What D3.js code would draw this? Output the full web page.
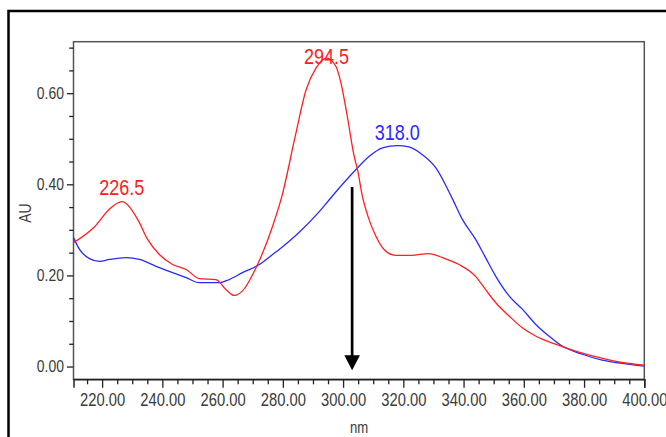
<!DOCTYPE html>
<html>
<head>
<meta charset="utf-8">
<script src="https://cdn.jsdelivr.net/npm/d3@7"></script>
<style>
  html, body { margin: 0; padding: 0; background: #fff; }
  svg { display: block; }
  .lbl { font-family: "Liberation Sans", Arial, sans-serif; }
</style>
</head>
<body>
<svg id="chart" width="666" height="437"></svg>
<script>
// UV absorbance spectra (AU vs wavelength, nm)
const redNm = [210.5, 217.5, 222.4, 226.5, 231.8, 235.1, 239.0, 243.4, 247.9, 252.3, 257.8, 261.1, 263.9, 266.6, 271.1, 276.6, 279.7, 284.1, 287.7, 291.0, 294.5, 297.6, 299.3, 301.4, 303.7, 304.8, 306.4, 308.6, 310.9, 313.6, 317.5, 322.5, 328.5, 333.0, 338.5, 344.0, 347.3, 350.7, 355.1, 359.5, 363.9, 370.5, 377.2, 383.8, 391.5, 400.0];
const redAU = [0.272, 0.307, 0.345, 0.362, 0.323, 0.279, 0.246, 0.224, 0.213, 0.193, 0.191, 0.169, 0.156, 0.166, 0.217, 0.308, 0.374, 0.505, 0.607, 0.655, 0.677, 0.659, 0.622, 0.549, 0.461, 0.432, 0.374, 0.323, 0.286, 0.257, 0.244, 0.244, 0.248, 0.239, 0.224, 0.198, 0.169, 0.140, 0.111, 0.085, 0.067, 0.049, 0.034, 0.022, 0.010, 0.003];

const blueNm = [210.5, 212.5, 215.8, 219.1, 222.4, 228.0, 232.4, 237.9, 243.4, 247.9, 252.3, 258.9, 262.2, 266.6, 272.2, 276.6, 278.8, 285.0, 292.1, 295.4, 299.8, 304.2, 308.6, 313.1, 318.0, 321.9, 326.3, 330.8, 336.3, 339.6, 344.0, 347.3, 350.7, 355.1, 359.5, 363.9, 368.3, 372.7, 379.4, 386.0, 392.6, 400.0];
const blueAU = [0.283, 0.257, 0.237, 0.231, 0.235, 0.239, 0.235, 0.220, 0.206, 0.195, 0.184, 0.184, 0.191, 0.206, 0.224, 0.246, 0.257, 0.292, 0.340, 0.366, 0.400, 0.432, 0.461, 0.480, 0.485, 0.482, 0.465, 0.436, 0.368, 0.323, 0.279, 0.239, 0.198, 0.155, 0.126, 0.093, 0.067, 0.045, 0.027, 0.014, 0.007, 0.001];

const xMajorTicks = [220, 240, 260, 280, 300, 320, 340, 360, 380, 400];
const xMinorTicks = d3.range(215, 401, 5);
const yMajorTicks = [0.0, 0.2, 0.4, 0.6];
const yMinorTicks = d3.range(0, 0.701, 0.05);

const peakNm = [226.5, 294.5, 318.0];
const peakLabels = ["226.5", "294.5", "318.0"];
const peakSeries = ["red", "red", "blue"];

// downward arrow marker (wavelength, from AU, to AU)
const arrowNm = 303.0;
const arrowFromAU = 0.394;
const arrowToAU = -0.008;

const colors = { red: "#ff2020", blue: "#2a2aff" };
const narrow = 0.82; // horizontal squeeze for the condensed look of the labels

const svg = d3.select("#chart");
const box = { left: 73.5, right: 644.3, top: 41.7, bottom: 379.3 };

const x = d3.scaleLinear().domain([210.5, 400]).range([box.left, box.right]);
const y = d3.scaleLinear().domain([-0.028, 0.713]).range([box.bottom, box.top]);

// outer frame (open to the right and bottom)
svg.append("path")
  .attr("d", `M8.5,437 L8.5,11 L666,11`)
  .attr("fill", "none").attr("stroke", "#000").attr("stroke-width", 2.5);

// plot box
svg.append("rect")
  .attr("x", box.left).attr("y", box.top)
  .attr("width", box.right - box.left).attr("height", box.bottom - box.top)
  .attr("fill", "none").attr("stroke", "#555").attr("stroke-width", 1.5);

// x axis: major + minor ticks
const xAxisMajor = d3.axisBottom(x).tickValues(xMajorTicks)
  .tickSize(8.5).tickPadding(5).tickFormat(d3.format(".2f"));
const gx = svg.append("g").attr("transform", `translate(0,${box.bottom})`).call(xAxisMajor);
gx.select(".domain").attr("stroke", "#222").attr("stroke-width", 1.5);
gx.selectAll(".tick line").attr("stroke", "#222").attr("stroke-width", 1.3);
gx.selectAll("text").attr("class", "lbl").attr("font-size", 18).attr("fill", "#3a3a3a")
  .attr("transform", `scale(${narrow},1)`);

const gxMinor = svg.append("g").attr("transform", `translate(0,${box.bottom})`)
  .call(d3.axisBottom(x).tickValues(xMinorTicks.filter(v => v % 20 !== 0)).tickSize(5).tickFormat(""));
gxMinor.select(".domain").remove();
gxMinor.selectAll(".tick line").attr("stroke", "#222").attr("stroke-width", 1.3);

// y axis: major + minor ticks
const yAxisMajor = d3.axisLeft(y).tickValues(yMajorTicks)
  .tickSize(6.6).tickPadding(3).tickFormat(d3.format(".2f"));
const gy = svg.append("g").attr("transform", `translate(${box.left},0)`).call(yAxisMajor);
gy.select(".domain").remove();
gy.selectAll(".tick line").attr("stroke", "#222").attr("stroke-width", 1.3);
gy.selectAll("text").attr("class", "lbl").attr("font-size", 17).attr("fill", "#3a3a3a")
  .attr("x", -9.6 / narrow).attr("transform", `scale(${narrow},1)`);

const gyMinor = svg.append("g").attr("transform", `translate(${box.left},0)`)
  .call(d3.axisLeft(y).tickValues(yMinorTicks.filter(v => Math.abs(v * 5 - Math.round(v * 5)) > 1e-6)).tickSize(4.3).tickFormat(""));
gyMinor.select(".domain").remove();
gyMinor.selectAll(".tick line").attr("stroke", "#222").attr("stroke-width", 1.3);

// axis titles
svg.append("text").attr("class", "lbl")
  .attr("transform", `translate(359,433) scale(${narrow},1)`).attr("text-anchor", "middle")
  .attr("font-size", 16).attr("fill", "#3a3a3a").text("nm");
svg.append("text").attr("class", "lbl")
  .attr("transform", `translate(31,213) rotate(-90) scale(${narrow},1)`).attr("text-anchor", "middle")
  .attr("font-size", 17).attr("fill", "#3a3a3a").text("AU");

// spectra
const line = d3.line().curve(d3.curveMonotoneX).x(d => x(d[0])).y(d => y(d[1]));
const plot = svg.append("g");
plot.append("path")
  .datum(blueNm.map((n, i) => [n, blueAU[i]]))
  .attr("d", line).attr("fill", "none")
  .attr("stroke", colors.blue).attr("stroke-width", 1.3);
plot.append("path")
  .datum(redNm.map((n, i) => [n, redAU[i]]))
  .attr("d", line).attr("fill", "none")
  .attr("stroke", colors.red).attr("stroke-width", 1.3);

// peak labels
const peakOffset = [-7, 6, -6];
peakNm.forEach((nm, i) => {
  const srcNm = peakSeries[i] === "red" ? redNm : blueNm;
  const srcAU = peakSeries[i] === "red" ? redAU : blueAU;
  const v = srcAU[srcNm.indexOf(nm)];
  svg.append("text").attr("class", "lbl")
    .attr("transform", `translate(${x(nm)},${y(v) + peakOffset[i]}) scale(${narrow},1)`)
    .attr("text-anchor", "middle").attr("font-size", 22)
    .attr("fill", colors[peakSeries[i]]).text(peakLabels[i]);
});

// arrow
const ax = x(arrowNm);
const tipY = y(arrowToAU);
svg.append("line")
  .attr("x1", ax).attr("x2", ax)
  .attr("y1", y(arrowFromAU)).attr("y2", tipY - 12)
  .attr("stroke", "#000").attr("stroke-width", 2.7);
svg.append("path")
  .attr("d", `M${ax - 7.8},${tipY - 15} L${ax + 7.8},${tipY - 15} L${ax},${tipY} Z`)
  .attr("fill", "#000");
</script>
</body>
</html>
